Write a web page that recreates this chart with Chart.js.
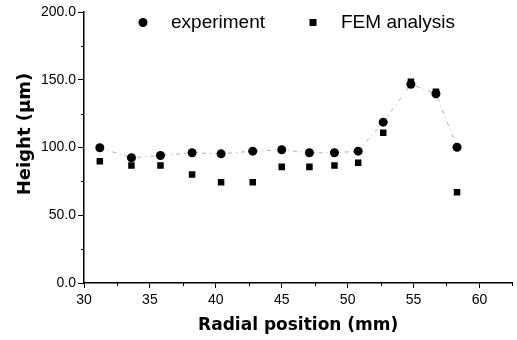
<!DOCTYPE html>
<html>
<head>
<meta charset="utf-8">
<script src="https://cdn.jsdelivr.net/npm/chart.js@4/dist/chart.umd.min.js"></script>
<style>
  html, body { margin: 0; padding: 0; background: #fff; }
  canvas { display: block; }
</style>
</head>
<body>
<canvas id="c" width="517" height="340"></canvas>
<script>
const radialPositions = [31.2, 33.6, 35.8, 38.2, 40.4, 42.8, 45.0, 47.1, 49.0, 50.8, 52.7, 54.8, 56.7, 58.3];
const experiment = [99.8, 92.4, 94.1, 96.1, 95.3, 97.3, 98.3, 96.1, 96.1, 97.3, 118.7, 146.6, 139.7, 100.2];
const femAnalysis = [89.9, 86.7, 86.7, 80.0, 74.4, 74.4, 85.7, 85.7, 86.7, 88.7, 110.9, 148.5, 141.2, 67.0];
const seriesLabels = ['experiment', 'FEM analysis'];
const xAxisTitle = 'Radial position (mm)';
const yAxisTitle = 'Height (\u03bcm)';
const xMinorTicks = [32.5, 37.5, 42.5, 47.5, 52.5, 57.5, 62.5];
const yMinorTicks = [25, 75, 125, 175];

const toPoints = (vals) => vals.map((v, i) => ({ x: radialPositions[i], y: v }));

const extras = {
  id: 'extras',
  afterDraw(chart) {
    const ctx = chart.ctx;
    const xs = chart.scales.x, ys = chart.scales.y;
    const a = chart.chartArea;
    ctx.save();
    ctx.strokeStyle = '#000';
    ctx.lineWidth = 1;
    yMinorTicks.forEach(v => {
      const py = Math.round(ys.getPixelForValue(v)) + 0.5;
      ctx.beginPath(); ctx.moveTo(a.left - 3, py); ctx.lineTo(a.left, py); ctx.stroke();
    });
    xMinorTicks.forEach(v => {
      const px = Math.round(xs.getPixelForValue(v)) + 0.5;
      ctx.beginPath(); ctx.moveTo(px, a.bottom); ctx.lineTo(px, a.bottom + 3); ctx.stroke();
    });
    ctx.fillStyle = '#000';
    ctx.font = 'bold 18px "DejaVu Sans"';
    ctx.textAlign = 'center';
    ctx.textBaseline = 'middle';
    ctx.translate(25, 134);
    ctx.rotate(-Math.PI / 2);
    ctx.fillText(yAxisTitle, 0, 0);
    ctx.restore();

    ctx.save();
    ctx.fillStyle = '#000';
    ctx.font = '19px "Liberation Sans"';
    ctx.textAlign = 'left';
    ctx.textBaseline = 'alphabetic';
    const lx1 = a.left + 59, lx2 = a.left + 229, ly = 22.5;
    ctx.beginPath(); ctx.arc(lx1, ly, 4.5, 0, Math.PI * 2); ctx.fill();
    ctx.fillText(seriesLabels[0], lx1 + 28, 27.5);
    ctx.fillRect(lx2 - 3.5, ly - 3.5, 7, 7);
    ctx.fillText(seriesLabels[1], lx2 + 28, 27.5);
    ctx.restore();
  }
};

new Chart(document.getElementById('c'), {
  type: 'scatter',
  data: {
    datasets: [
      {
        label: seriesLabels[0],
        data: toPoints(experiment),
        showLine: true,
        borderColor: '#9a9a9a',
        borderWidth: 0.8,
        borderDash: [4, 4, 1, 4],
        pointStyle: 'circle',
        pointRadius: 4.5,
        pointBackgroundColor: '#000',
        pointBorderColor: '#000',
        pointBorderWidth: 0,
        order: 1
      },
      {
        label: seriesLabels[1],
        data: toPoints(femAnalysis),
        showLine: false,
        pointStyle: 'rect',
        pointRadius: 4.6,
        pointBackgroundColor: '#000',
        pointBorderColor: '#000',
        pointBorderWidth: 0,
        order: 2
      }
    ]
  },
  options: {
    responsive: false,
    devicePixelRatio: 1,
    animation: false,
    layout: { padding: { left: 0, right: 2, top: 12, bottom: 0 } },
    plugins: { legend: { display: false }, tooltip: { enabled: false } },
    scales: {
      x: {
        type: 'linear',
        min: 30,
        max: 62.5,
        afterFit(s) { s.height = 57; },
        ticks: {
          stepSize: 5,
          includeBounds: false,
          color: '#000',
          padding: 4,
          font: { family: 'Liberation Sans', size: 14 },
          maxRotation: 0
        },
        grid: { display: true, drawOnChartArea: false, drawTicks: true, tickLength: 5, color: '#000', lineWidth: 1 },
        border: { display: true, color: '#000', width: 1.5 },
        title: {
          display: true,
          text: xAxisTitle,
          color: '#000',
          font: { family: 'DejaVu Sans', size: 17, weight: 'bold' },
          padding: { top: 0, bottom: 4 }
        }
      },
      y: {
        type: 'linear',
        min: 0,
        max: 200,
        afterFit(s) { s.width = 84; },
        ticks: {
          stepSize: 50,
          color: '#000',
          padding: 2,
          font: { family: 'Liberation Sans', size: 14 },
          callback: (v) => Number(v).toFixed(1)
        },
        grid: { display: true, drawOnChartArea: false, drawTicks: true, tickLength: 6, color: '#000', lineWidth: 1 },
        border: { display: true, color: '#000', width: 1.5 }
      }
    }
  },
  plugins: [extras]
});
</script>
</body>
</html>
